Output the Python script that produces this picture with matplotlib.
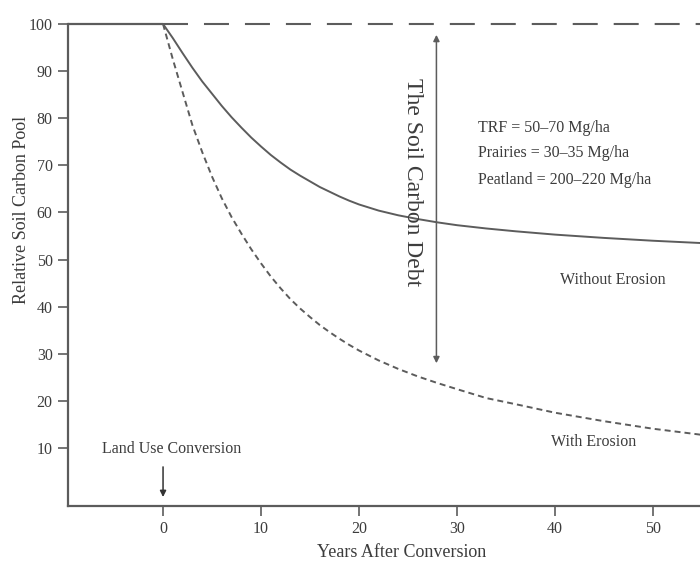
import matplotlib
matplotlib.use("Agg")
import matplotlib.pyplot as plt

plt.rcParams['font.family'] = ['Liberation Serif', 'DejaVu Serif']
plt.rcParams['lines.scale_dashes'] = False

# Data
years = [0, 1, 2, 3, 4, 5, 6, 7, 8, 9, 10, 11, 12, 13, 14, 15, 16, 17, 18, 19,
         20, 22, 24, 26, 28, 30, 33, 36, 40, 45, 50, 55]
without_erosion = [100, 97.0, 93.8, 90.7, 87.8, 85.2, 82.6, 80.2, 78.0, 75.9,
                   74.0, 72.2, 70.6, 69.1, 67.8, 66.6, 65.4, 64.4, 63.4, 62.5,
                   61.7, 60.4, 59.4, 58.6, 57.9, 57.3, 56.6, 56.0, 55.3, 54.6,
                   54.0, 53.5]
with_erosion = [100, 92.5, 85.5, 78.5, 72.8, 67.6, 63.0, 59.0, 55.5, 52.2,
                49.2, 46.4, 43.9, 41.6, 39.6, 37.8, 36.1, 34.6, 33.2, 31.9,
                30.7, 28.6, 26.8, 25.2, 23.8, 22.5, 20.6, 19.3, 17.5, 15.7,
                14.1, 12.8]
pre_years = [-9.7, 0]
pre_level = [100, 100]
ref_years = [0, 55]
ref_level = [100, 100]
x_ticks = [0, 10, 20, 30, 40, 50]
y_ticks = [10, 20, 30, 40, 50, 60, 70, 80, 90, 100]
stocks = ["TRF = 50\u201370 Mg/ha", "Prairies = 30\u201335 Mg/ha",
          "Peatland = 200\u2013220 Mg/ha"]

LC = '#5c5c5c'
TC = '#3c3c3c'

fig = plt.figure(figsize=(7.0, 5.64), dpi=100)
ax = fig.add_axes([68/700, 1-506/564, 1-68/700, (506-24)/564])
ax.set_xlim(-9.7, 54.8)
ax.set_ylim(-2.3, 100)

ax.plot(pre_years, pre_level, color=LC, lw=1.6, solid_capstyle='butt', clip_on=False)
ax.plot(ref_years, ref_level, color=LC, lw=1.5, dashes=(18, 11.5), clip_on=False)
ax.plot(years, without_erosion, color=LC, lw=1.4)
ax.plot(years, with_erosion, color=LC, lw=1.4, dashes=(4.3, 2.9))

# Soil carbon debt arrow
ax.annotate('', xy=(27.9, 97.7), xytext=(27.9, 28.0),
            arrowprops=dict(arrowstyle='<|-|>', color=LC, lw=1.1,
                            mutation_scale=9, shrinkA=0, shrinkB=0))
ax.text(25.5, 66.5, 'The Soil Carbon Debt', rotation=-90, ha='center', va='center',
        fontsize=17, color=TC)

# Land use conversion arrow
ax.annotate('', xy=(0, -0.4), xytext=(0, 6.0),
            arrowprops=dict(arrowstyle='-|>', color='#333333', lw=1.1,
                            mutation_scale=9, shrinkA=0, shrinkB=0))
ax.text(0.9, 9.8, 'Land Use Conversion', ha='center', va='center', fontsize=11.5, color=TC)

for s, yv in zip(stocks, [77.9, 72.6, 66.9]):
    ax.text(32.1, yv, s, ha='left', va='center', fontsize=11.5, color=TC)

ax.text(45.9, 45.6, 'Without Erosion', ha='center', va='center', fontsize=11.5, color=TC)
ax.text(43.9, 11.2, 'With Erosion', ha='center', va='center', fontsize=11.5, color=TC)

for side in ['top', 'right']:
    ax.spines[side].set_visible(False)
for side in ['left', 'bottom']:
    ax.spines[side].set_color(LC)
    ax.spines[side].set_linewidth(1.6)

ax.set_xticks(x_ticks)
ax.set_yticks(y_ticks)
ax.tick_params(axis='both', colors=LC, labelcolor=TC, labelsize=11.5, length=7,
               width=1.2, direction='out', pad=4)

ax.set_xlabel('Years After Conversion', fontsize=13, color=TC)
ax.xaxis.set_label_coords((402-68)/632, -(544-506)/482)
ax.set_ylabel('Relative Soil Carbon Pool', fontsize=13, color=TC)
ax.yaxis.set_label_coords(-(68-30)/632, (506-210)/482)

fig.savefig('out.png', dpi=100, facecolor='white')
